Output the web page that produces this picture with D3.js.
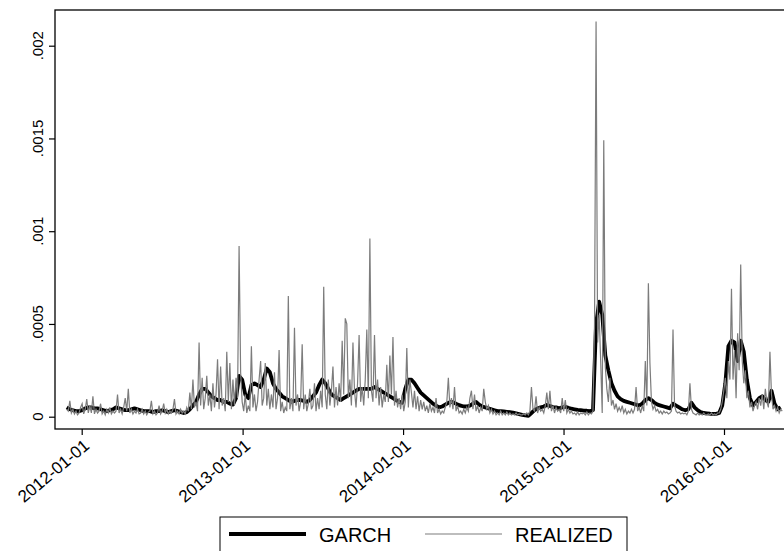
<!DOCTYPE html>
<html>
<head>
<meta charset="utf-8">
<script src="https://cdnjs.cloudflare.com/ajax/libs/d3/7.8.5/d3.min.js"></script>
<style>
    body { margin: 0; background: #fff; }
    text { font-family: "Liberation Sans", Arial, sans-serif; fill: #000; }
</style>
</head>
<body>
<div id="chart"></div>
<script>
"use strict"

// weekly GARCH variance, first week starts 2011-11-28 (values in 1e-5)
let garchStart = "2011-11-28";
let garchE5 = [
    5, 4, 3.5, 3, 3, 3.5, 4.5, 5, 5, 4.5,
    4.5, 4, 3.5, 3, 3.5, 4, 5, 4.5, 4, 3.5,
    3.5, 4, 4.5, 4, 3.5, 3, 3, 3, 2.5, 3,
    3, 3.5, 3, 2.5, 3, 3.5, 3, 2.5, 2, 2.5,
    4, 6, 8, 12, 15, 15, 13, 11, 10, 9,
    9, 8, 8, 7, 6.5, 10, 22, 20, 12, 10,
    17, 18, 17, 16, 20, 26, 24, 18, 15, 13,
    11, 10, 9, 8, 8.5, 9, 9, 8.5, 8, 9,
    11, 13, 17, 20, 18, 15, 12, 11, 10, 9,
    10, 11, 12, 13, 14, 15, 15, 15, 15, 15,
    16, 15, 14, 13, 12, 11, 10, 9, 8, 7.5,
    15, 20, 20, 18, 15.5, 13, 11.5, 10, 8.5, 7,
    6, 5, 5.5, 6.5, 7.5, 8, 7.5, 6.5, 6, 5.5,
    5.5, 6, 7, 8, 6.5, 5.5, 5, 4.5, 4, 3.5,
    3, 3, 2.8, 2.6, 2.4, 2.2, 1.8, 1.4, 1, 0.7,
    0.5, 2, 3.5, 4.5, 5, 5.5, 6.3, 5.8, 5.2, 5,
    4.5, 5, 5.4, 4.8, 4.3, 4, 3.7, 3.5, 3.3, 3.2,
    3, 3.5, 50, 62, 55, 33, 25, 18, 14, 11,
    9.5, 8.5, 8, 7.5, 7, 6.5, 6, 7, 9, 10,
    9, 7.5, 6.5, 6, 5.5, 5, 4.5, 7, 6, 5,
    4, 3.5, 4, 7.5, 5, 3.5, 2.5, 2, 1.8, 1.6,
    1.5, 1.5, 2, 6, 18, 38, 41, 40, 30, 41,
    35, 20, 10, 6, 8, 10, 11, 9, 8, 14,
    7, 4, 5
];

// realized variance, two readings a week from the same start (values in 1e-5)
let realizedE5 = [
    4, 3, 8.5, 2, 4, 1.5, 3, 1,
    2, 5, 7, 1.5, 4, 9.5, 2, 6,
    2, 11, 1.5, 4, 2, 3, 7, 1.5,
    3, 1, 4, 2, 5, 1.5, 3, 2,
    3, 12, 2, 4, 1.5, 5, 10, 3,
    15, 2, 4, 1.5, 3, 2, 4, 1.5,
    2, 4, 1.5, 3, 1, 2.5, 3, 8.5,
    1.5, 3, 1, 2, 6, 1.5, 3, 7,
    2, 4, 1.5, 3, 2, 4, 9.5, 1.5,
    3, 1.5, 4, 2, 3, 1.5, 5, 3,
    13, 4, 20, 5, 8, 3, 40, 6,
    21, 4, 10, 22, 6, 12, 3, 18,
    5, 12, 31, 4, 27, 6, 10, 3,
    35, 8, 29, 4, 20, 6, 21, 10,
    92, 24, 8, 3, 12, 2, 6, 3,
    38, 5, 12, 3, 8, 20, 30, 6,
    10, 29, 6, 15, 4, 12, 5, 24,
    4, 10, 36, 3, 8, 2, 5, 3,
    65, 4, 10, 3, 48, 6, 12, 3,
    8, 39, 4, 12, 3, 7, 15, 4,
    6, 18, 3, 10, 4, 14, 5, 70,
    12, 4, 20, 6, 14, 27, 5, 16,
    6, 18, 8, 41, 12, 53, 50, 10,
    20, 6, 40, 14, 5, 18, 44, 8,
    16, 6, 20, 47, 10, 96, 14, 8,
    44, 10, 20, 6, 16, 5, 12, 8,
    28, 8, 33, 12, 43, 6, 14, 5,
    10, 4, 12, 3, 8, 37, 5, 20,
    13, 5, 14, 4, 11, 3, 9, 4,
    8, 3, 6, 2, 7, 3, 5, 2,
    10, 2, 4, 1.5, 3, 2, 5, 8,
    21, 5, 10, 4, 16, 3, 6, 2,
    3, 1.5, 4, 2, 5, 3, 10, 14,
    4, 12, 3, 6, 2, 5, 3, 15,
    8, 4, 6, 2, 4, 1.5, 3, 1,
    2, 1, 3, 1, 2, 1, 2.5, 1,
    2, 1, 1.5, 1, 2, 1, 1.5, 1,
    1, 1.5, 1, 2, 1, 3, 16, 4,
    3, 11, 2, 5, 3, 4, 2, 6,
    13, 4, 14, 3, 6, 2, 5, 3,
    4, 2, 10, 3, 9, 2, 4, 2,
    3, 1.5, 2, 1, 2.5, 1, 2, 1.5,
    2, 1, 2.5, 1, 2, 1.5, 3, 50,
    213, 40, 55, 30, 2, 149, 27, 15,
    8, 21, 6, 9, 4, 7, 3, 5,
    3, 6, 2, 4, 1.5, 3, 2, 4,
    2, 4, 16, 3, 5, 2, 6, 3,
    30, 6, 72, 29, 8, 4, 6, 3,
    4, 2, 3, 1.5, 3, 2, 2.5, 1.5,
    2, 3, 47, 6, 3, 2, 2.5, 1.5,
    2, 1.5, 2, 1, 3, 18, 4, 2,
    1.5, 1, 2, 1, 1.5, 1, 2, 1,
    1, 1.5, 1, 2, 1, 1.5, 1, 2,
    2, 4, 8, 14, 21, 10, 30, 20,
    69, 20, 36, 10, 45, 25, 82, 30,
    18, 25, 10, 14, 5, 8, 3, 6,
    8, 4, 10, 6, 12, 4, 15, 8,
    5, 35, 12, 4, 6, 3, 5, 2,
    4, 3
];

let yTickValues = [0, 0.0005, 0.001, 0.0015, 0.002];
let yTickLabels = ["0", ".0005", ".001", ".0015", ".002"];
let xTickLabels = ["2012-01-01", "2013-01-01", "2014-01-01", "2015-01-01", "2016-01-01"];
let seriesNames = ["GARCH", "REALIZED"];

let width = 784, height = 551;
let frame = { left: 55, top: 10, right: 790, bottom: 429 };

let svg = d3.select("#chart").append("svg")
    .attr("width", width)
    .attr("height", height);

let parse = d3.utcParse("%Y-%m-%d");
let start = parse(garchStart);
let dayMs = 864e5;

let garch = garchE5.map((v, i) => ({ date: new Date(start.getTime() + i * 7 * dayMs), value: v * 1e-5 }));
let realized = realizedE5.map((v, i) => ({ date: new Date(start.getTime() + i * 3.5 * dayMs), value: v * 1e-5 }));

let x = d3.scaleUtc()
    .domain([parse(xTickLabels[0]), parse(xTickLabels[4])])
    .range([81.7, 724]);

let y = d3.scaleLinear()
    .domain([0, 0.002])
    .range([416.7, 45.7]);

// plot frame (right side falls outside the picture, like the source)
svg.append("rect")
    .attr("x", frame.left)
    .attr("y", frame.top)
    .attr("width", frame.right - frame.left)
    .attr("height", frame.bottom - frame.top)
    .style("fill", "none")
    .style("stroke", "#000")
    .style("stroke-width", 1.3);

// y axis
let yAxis = svg.append("g")
    .attr("transform", "translate(" + frame.left + ",0)")
    .call(d3.axisLeft(y).tickValues(yTickValues).tickSize(6).tickFormat(""));
yAxis.select(".domain").remove();
yAxis.selectAll("line").style("stroke-width", 1.2);

yTickValues.forEach((v, i) => {
    svg.append("text")
        .attr("transform", "translate(43," + y(v) + ") rotate(-90)")
        .style("font-size", "15px")
        .style("text-anchor", "middle")
        .text(yTickLabels[i]);
});

// x axis
let xTicks = xTickLabels.map(parse);
let xAxis = svg.append("g")
    .attr("transform", "translate(0," + frame.bottom + ")")
    .call(d3.axisBottom(x).tickValues(xTicks).tickSize(6).tickFormat(""));
xAxis.select(".domain").remove();
xAxis.selectAll("line").style("stroke-width", 1.2);

xTicks.forEach((d, i) => {
    svg.append("text")
        .attr("transform", "translate(" + (x(d) + 1) + "," + (frame.bottom + 9) + ") rotate(-40)")
        .attr("dy", "0.72em")
        .style("font-size", "17px")
        .style("text-anchor", "end")
        .text(xTickLabels[i]);
});

// series
let line = d3.line()
    .x(d => x(d.date))
    .y(d => y(d.value));

svg.append("path")
    .datum(garch)
    .attr("d", line)
    .style("fill", "none")
    .style("stroke", "#000")
    .style("stroke-width", 3.8)
    .style("stroke-linejoin", "round");

svg.append("path")
    .datum(realized)
    .attr("d", line)
    .style("fill", "none")
    .style("stroke", "#7c7c7c")
    .style("stroke-width", 1.2)
    .style("stroke-linejoin", "miter");

// legend
let legend = svg.append("g");
legend.append("rect")
    .attr("x", 220)
    .attr("y", 517)
    .attr("width", 407)
    .attr("height", 60)
    .style("fill", "#fff")
    .style("stroke", "#000")
    .style("stroke-width", 1);

let legendItems = [
    { x: 229, color: "#000", w: 4 },
    { x: 425, color: "#7c7c7c", w: 1.1 }
];

legendItems.forEach((item, i) => {
    legend.append("line")
        .attr("x1", item.x)
        .attr("x2", item.x + 77)
        .attr("y1", 534)
        .attr("y2", 534)
        .style("stroke", item.color)
        .style("stroke-width", item.w);

    legend.append("text")
        .attr("x", item.x + 90)
        .attr("y", 542)
        .style("font-size", "20px")
        .text(seriesNames[i]);
});
</script>
</body>
</html>
